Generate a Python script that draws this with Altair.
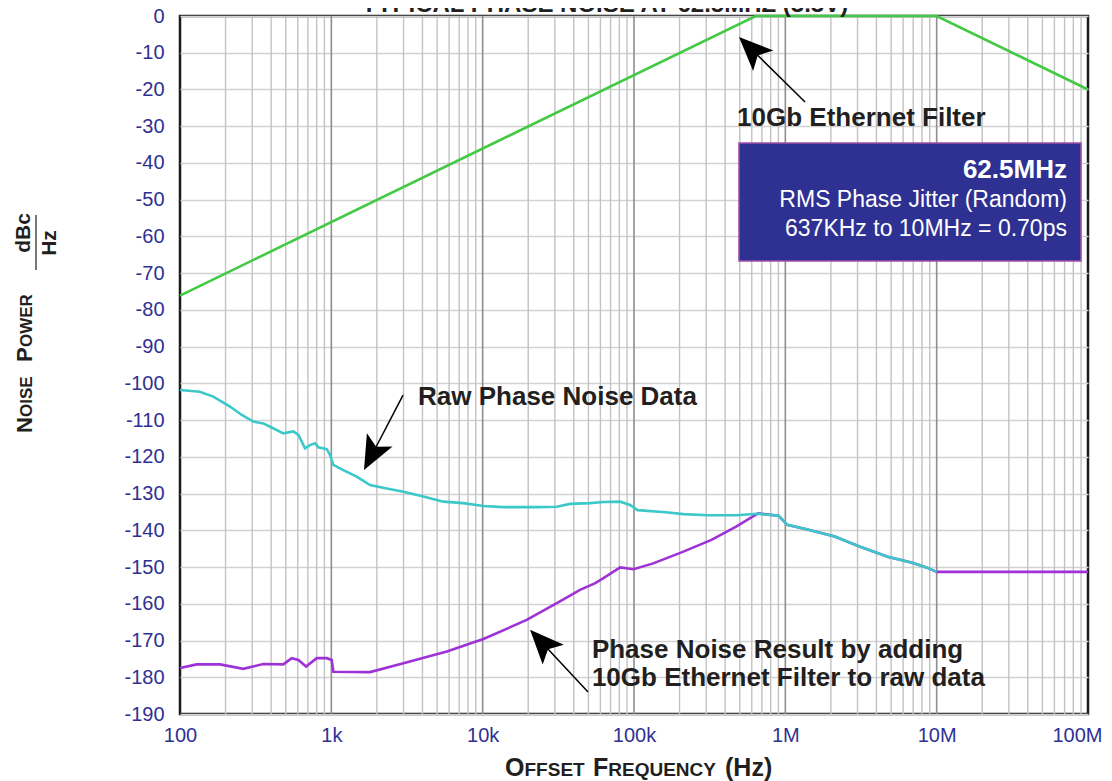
import math
import altair as alt
import pandas as pd

# ---------------- data ----------------
filter_freq = [100, 637000, 10000000, 100000000]
filter_db = [-76.1, 0.0, 0.0, -20.0]

raw_freq = [100, 135, 166, 214, 256, 305, 355, 394, 482, 561, 606, 670, 723, 780, 821,
            933, 981, 1031, 1200, 1472, 1803, 2324, 2993, 4058, 5500, 7450, 10110, 13700,
            22800, 30900, 37800, 51300, 62800, 81000, 94200, 105700, 162000, 212000,
            308000, 473000, 653000, 901000, 1030000, 1380000, 2120000, 3090000,
            4750000, 6900000, 8550000, 10000000]
raw_db = [-101.8, -102.3, -103.6, -106.3, -108.6, -110.4, -110.9, -111.8, -113.6, -113.1,
          -114.0, -117.7, -116.8, -116.3, -117.4, -117.9, -119.5, -122.2, -123.6, -125.4,
          -127.7, -128.6, -129.5, -130.8, -132.2, -132.6, -133.4, -133.7, -133.7, -133.6,
          -132.8, -132.6, -132.3, -132.2, -133.1, -134.5, -135.1, -135.6, -135.9, -135.9,
          -135.5, -136.0, -138.5, -139.7, -141.7, -144.4, -147.2, -148.8, -150.1, -151.3]

result_freq = [100, 129, 184, 262, 355, 482, 547, 606, 681, 801, 933, 1006, 1031, 1803,
               2993, 5800, 10110, 19540, 30900, 44000, 55500, 62800, 81000, 99300, 134000,
               212000, 325000, 473000, 635000, 660000, 901000, 1030000, 1380000, 2120000,
               3090000, 4750000, 6900000, 8550000, 10000000, 100000000]
result_db = [-177.5, -176.5, -176.5, -177.7, -176.4, -176.5, -174.8, -175.3, -177.1, -174.8,
             -174.8, -175.3, -178.5, -178.6, -176.2, -173.0, -169.6, -164.4, -159.8, -156.2,
             -154.4, -153.0, -150.1, -150.6, -149.0, -145.8, -142.6, -139.0, -135.8, -135.4,
             -136.0, -138.5, -139.7, -141.7, -144.4, -147.2, -148.8, -150.1, -151.3, -151.3]

x_ticks = [100, 1000, 10000, 100000, 1000000, 10000000, 100000000]
y_ticks = list(range(-190, 1, 10))
grid_minor = [k * 10 ** d for d in range(2, 8) for k in range(2, 10)]
grid_major = [10 ** d for d in range(3, 8)]

# annotation anchors (frequency, dB)
arrow_tip_f = [494000, 1644, 20560]
arrow_tip_db = [-5.7, -123.6, -167.1]
arrow_tail_f = [1350000, 2978, 49700]
arrow_tail_db = [-23.4, -103.2, -184.0]

box_f = [494000, 89900000]
box_db = [-34.6, -66.7]

# ---------------- layout / style ----------------
W, H = 908, 698
FONT = "Liberation Sans, Helvetica, Arial, sans-serif"
NAVY = "#2e3192"
GREEN = "#44c944"
CYAN = "#3cc8c8"
PURPLE = "#9e32d6"
INK = "#231f20"

XS = alt.Scale(type="log", domain=[100, 100000000], nice=False)
YS = alt.Scale(domain=[-190, 0], nice=False, zero=False)


def X(field):
    return alt.X(field, type="quantitative", scale=XS, title=None,
                 axis=alt.Axis(values=x_ticks, grid=False, ticks=False, domain=False,
                               labelExpr="datum.value >= 1e6 ? (datum.value/1e6) + 'M' : datum.value >= 1000 ? (datum.value/1000) + 'k' : datum.value + ''",
                               labelFont=FONT, labelFontSize=20, labelColor=NAVY,
                               labelAlign=alt.ExprRef(expr="datum.value >= 1e8 ? 'right' : 'center'"),
                               labelOffset=alt.ExprRef(expr="datum.value >= 1e8 ? 14 : 0"),
                               labelPadding=11, labelFlush=False, labelOverlap=False))


def Y(field):
    return alt.Y(field, type="quantitative", scale=YS, title=None,
                 axis=alt.Axis(values=y_ticks, grid=True, gridColor="#d2d2d2", gridWidth=1.6,
                               ticks=False, domain=False, labelExpr="'' + datum.value",
                               labelFont=FONT, labelFontSize=20, labelColor=NAVY,
                               labelPadding=16, labelOverlap=False))


def to_px(f, db):
    return W * (math.log10(f) - 2) / 6, H * (-db) / 190


def to_data(x, y):
    return 10 ** (2 + x * 6 / W), -y * 190 / H


# ---------------- layers ----------------
minor_df = pd.DataFrame({"freq": grid_minor})
major_df = pd.DataFrame({"freq": grid_major})
grid_minor_layer = alt.Chart(minor_df).mark_rule(color="#c2c2c2", strokeWidth=1.4).encode(x=X("freq"))
grid_major_layer = alt.Chart(major_df).mark_rule(color="#8e8e8e", strokeWidth=1.6).encode(x=X("freq"))

filt_df = pd.DataFrame({"freq": filter_freq, "db": filter_db})
raw_df = pd.DataFrame({"freq": raw_freq, "db": raw_db})
res_df = pd.DataFrame({"freq": result_freq, "db": result_db})

green = alt.Chart(filt_df).mark_line(color=GREEN, strokeWidth=2.6).encode(x=X("freq"), y=Y("db"))
purple = alt.Chart(res_df).mark_line(color=PURPLE, strokeWidth=2.6).encode(x=X("freq"), y=Y("db"))
cyan = alt.Chart(raw_df).mark_line(color=CYAN, strokeWidth=2.6).encode(x=X("freq"), y=Y("db"))

# arrows
HEAD = 34
shaft_rows, head_rows = [], []
for tf, tdb, af, adb in zip(arrow_tip_f, arrow_tip_db, arrow_tail_f, arrow_tail_db):
    tx, ty = to_px(tf, tdb)
    ax_, ay_ = to_px(af, adb)
    dx, dy = tx - ax_, ty - ay_
    L = math.hypot(dx, dy)
    ux, uy = dx / L, dy / L
    cx, cy = tx - ux * HEAD / 2, ty - uy * HEAD / 2
    cf, cdb = to_data(cx, cy)
    ang = math.degrees(math.atan2(ux, -uy)) % 360
    shaft_rows.append({"freq": af, "db": adb, "freq2": cf, "db2": cdb})
    head_rows.append({"freq": cf, "db": cdb, "angle": ang})
shaft_df = pd.DataFrame(shaft_rows)
head_df = pd.DataFrame(head_rows)

shafts = alt.Chart(shaft_df).mark_rule(color="black", strokeWidth=1.5).encode(
    x=X("freq"), y=Y("db"), x2="freq2", y2="db2")
heads = alt.Chart(head_df).mark_point(
    shape="M0,-1 L0.85,1 L0,0.55 L-0.85,1 Z", filled=True, color="black", opacity=1,
    size=HEAD * HEAD, strokeWidth=0).encode(
    x=X("freq"), y=Y("db"), angle=alt.Angle("angle:Q", scale=None))

# info box
box_df = pd.DataFrame({"freq": [box_f[0]], "freq2": [box_f[1]], "db": [box_db[0]], "db2": [box_db[1]]})
box = alt.Chart(box_df).mark_rect(fill=NAVY, stroke="#a050a8", strokeWidth=1.5).encode(
    x=X("freq"), x2="freq2", y=Y("db"), y2="db2")


def dtext(txt, f, db, size, weight="bold", align="left", color=INK):
    df = pd.DataFrame({"freq": [f], "db": [db]})
    return alt.Chart(df).mark_text(text=txt, font=FONT, fontSize=size, fontWeight=weight,
                                   align=align, baseline="alphabetic", color=color).encode(
        x=X("freq"), y=Y("db"))


texts = [
    dtext("10Gb Ethernet Filter", 480000, -29.9, 26),
    dtext("Raw Phase Noise Data", 3741, -105.9, 26),
    dtext("Phase Noise Result by adding", 52700, -174.7, 26),
    dtext("10Gb Ethernet Filter to raw data", 52700, -182.4, 26),
    dtext("62.5MHz", 72600000, -44.1, 26, "bold", "right", "white"),
    dtext("RMS Phase Jitter (Random)", 72600000, -51.9, 23, "normal", "right", "white"),
    dtext("637KHz to 10MHz = 0.70ps", 72600000, -59.9, 23, "normal", "right", "white"),
]

one = pd.DataFrame({"a": [0]})


def ptext(txt, x, y, size, angle=0, align="left", weight="bold"):
    kw = dict(text=txt, font=FONT, fontSize=size, fontWeight=weight, align=align,
              baseline="alphabetic", color=INK)
    if angle:
        kw["angle"] = angle
    return alt.Chart(one).mark_text(**kw).encode(x=alt.value(x), y=alt.value(y))


frame_texts = [
    # chart title (cut off at top of the page, as in the reference)
    ptext("TYPICAL PHASE NOISE AT 62.5MHZ (3.3V)", 425, -4, 24, align="center"),
    # x axis title in small caps
    ptext("O", 325, 760, 25),
    ptext("FFSET", 344.5, 760, 19),
    ptext("F", 413, 760, 25),
    ptext("REQUENCY", 428.3, 760, 19),
    ptext("(Hz)", 545, 760, 25),
    # y axis title in small caps, rotated
    ptext("N", -148, 417, 22, angle=270),
    ptext("OISE", -148, 401, 17, angle=270),
    ptext("P", -148, 346, 22, angle=270),
    ptext("OWER", -148, 331, 17, angle=270),
    ptext("dBc", -150, 217, 21, angle=270, align="center"),
    ptext("Hz", -124, 227, 21, angle=270, align="center"),
]
frac_line = alt.Chart(one).mark_rule(color=INK, strokeWidth=1.2).encode(
    x=alt.value(-144), y=alt.value(199), y2=alt.value(254))

chart = alt.layer(
    grid_minor_layer, grid_major_layer, green, purple, cyan, shafts, heads, box,
    *texts, *frame_texts, frac_line
).properties(
    width=W, height=H,
    autosize=alt.AutoSizeParams(type="none"),
    padding={"left": 172, "top": 8, "right": 16, "bottom": 67},
    background="white",
).configure_view(stroke="#1a1a1a", strokeWidth=2.5)

chart.save("out.html", embed_options={"renderer": "svg", "actions": False})
